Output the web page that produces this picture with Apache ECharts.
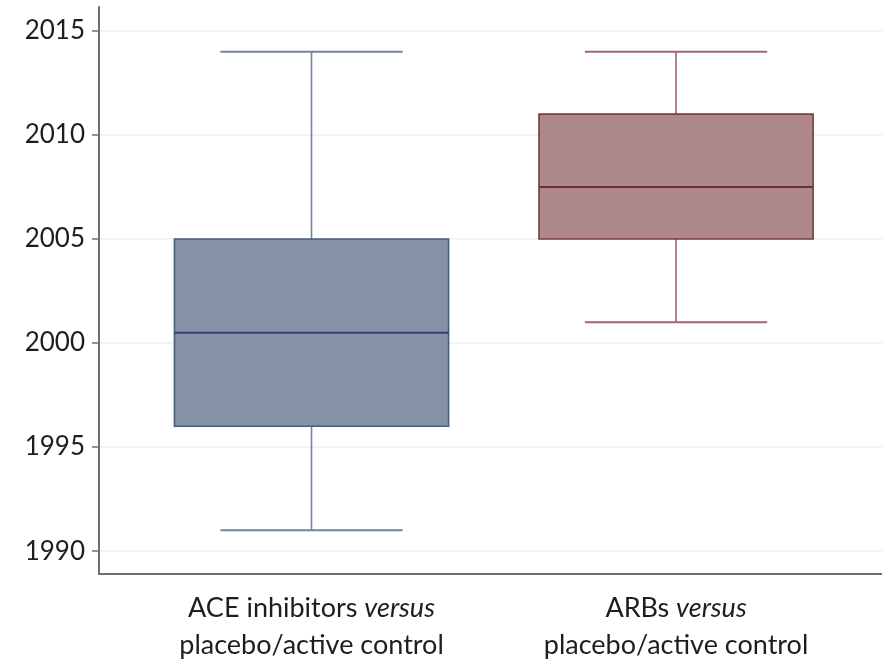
<!DOCTYPE html>
<html>
<head>
<meta charset="utf-8">
<script src="https://cdn.jsdelivr.net/npm/echarts@6/dist/echarts.min.js"></script>
<style>
html,body{margin:0;padding:0;background:#fff;}
#chart{width:882px;height:668px;}
</style>
</head>
<body>
<div id="chart"></div>
<script>
// ---- data ----
var catPrefix = ['ACE inhibitors ', 'ARBs '];
var catItalic = ['versus', 'versus'];
var catSecond = ['placebo/active control', 'placebo/active control'];
var catPos = [1, 2];
var mins = [1991, 2001];
var q1s = [1996, 2005];
var medians = [2000.5, 2007.5];
var q3s = [2005, 2011];
var maxs = [2014, 2014];
var yTicks = [1990, 1995, 2000, 2005, 2010, 2015];

// ---- styles ----
var STY = [
  { fill: '#8592a7', border: '#4b5b7e', whisker: '#7283a3', median: '#33446a' },
  { fill: '#ad898c', border: '#7b3a45', whisker: '#a1666e', median: '#6f2b37' }
];
var BOX_FRAC = 0.752;
var CAP_FRAC = 0.5;

var seriesData = catPos.map(function (p, i) {
  return [p, mins[i], q1s[i], medians[i], q3s[i], maxs[i]];
});

var chart = echarts.init(document.getElementById('chart'), null, { renderer: 'canvas' });

chart.setOption({
  backgroundColor: '#ffffff',
  animation: false,
  grid: { left: 99, right: 0, top: 7, bottom: 94, containLabel: false },
  xAxis: {
    type: 'value',
    min: 0.417,
    max: 2.565,
    splitLine: { show: false },
    axisTick: { show: false },
    axisLine: { show: true, lineStyle: { color: '#6e6e6e', width: 2 } },
    axisLabel: {
      customValues: catPos,
      margin: 16,
      formatter: function (v) {
        var i = catPos.indexOf(v);
        if (i < 0) return '';
        return '{n|' + catPrefix[i] + '}{it|' + catItalic[i] + '}\n{n|' + catSecond[i] + '}';
      },
      rich: {
        n: { fontFamily: 'Lato', fontSize: 27, color: '#1e1e1e', lineHeight: 37 },
        it: { fontFamily: 'Lato', fontStyle: 'italic', fontSize: 27, color: '#1e1e1e', lineHeight: 37 }
      }
    }
  },
  yAxis: {
    type: 'value',
    min: 1988.9,
    max: 2016.15,
    axisLine: { show: true, lineStyle: { color: '#6e6e6e', width: 2 } },
    axisTick: { show: true, customValues: yTicks, length: 7, lineStyle: { color: '#6e6e6e', width: 1.5 } },
    axisLabel: {
      customValues: yTicks,
      margin: 14,
      fontFamily: 'Lato',
      fontSize: 26,
      color: '#1e1e1e',
      formatter: function (v) { return String(v); }
    },
    splitLine: { show: true, lineStyle: { color: '#eaf0f2', width: 1.5 } }
  },
  series: [{
    type: 'custom',
    data: seriesData,
    encode: { x: 0, y: [1, 2, 3, 4, 5] },
    renderItem: function (params, api) {
      var x = api.value(0);
      var lo = api.coord([x, api.value(1)]);
      var q1 = api.coord([x, api.value(2)]);
      var md = api.coord([x, api.value(3)]);
      var q3 = api.coord([x, api.value(4)]);
      var hi = api.coord([x, api.value(5)]);
      var unit = api.size([1, 0])[0];
      var bw = unit * BOX_FRAC / 2;
      var cw = unit * CAP_FRAC / 2;
      var s = STY[params.dataIndex];
      var cx = lo[0];
      var wl = { stroke: s.whisker, lineWidth: 1.6 };
      return {
        type: 'group',
        children: [
          { type: 'line', shape: { x1: cx, y1: hi[1], x2: cx, y2: q3[1] }, style: wl },
          { type: 'line', shape: { x1: cx, y1: q1[1], x2: cx, y2: lo[1] }, style: wl },
          { type: 'line', shape: { x1: cx - cw, y1: hi[1], x2: cx + cw, y2: hi[1] }, style: { stroke: s.whisker, lineWidth: 2 } },
          { type: 'line', shape: { x1: cx - cw, y1: lo[1], x2: cx + cw, y2: lo[1] }, style: { stroke: s.whisker, lineWidth: 2 } },
          { type: 'rect', shape: { x: cx - bw, y: q3[1], width: bw * 2, height: q1[1] - q3[1] },
            style: { fill: s.fill, stroke: s.border, lineWidth: 1.6 } },
          { type: 'line', shape: { x1: cx - bw, y1: md[1], x2: cx + bw, y2: md[1] }, style: { stroke: s.median, lineWidth: 2 } }
        ]
      };
    }
  }]
});
</script>
</body>
</html>
